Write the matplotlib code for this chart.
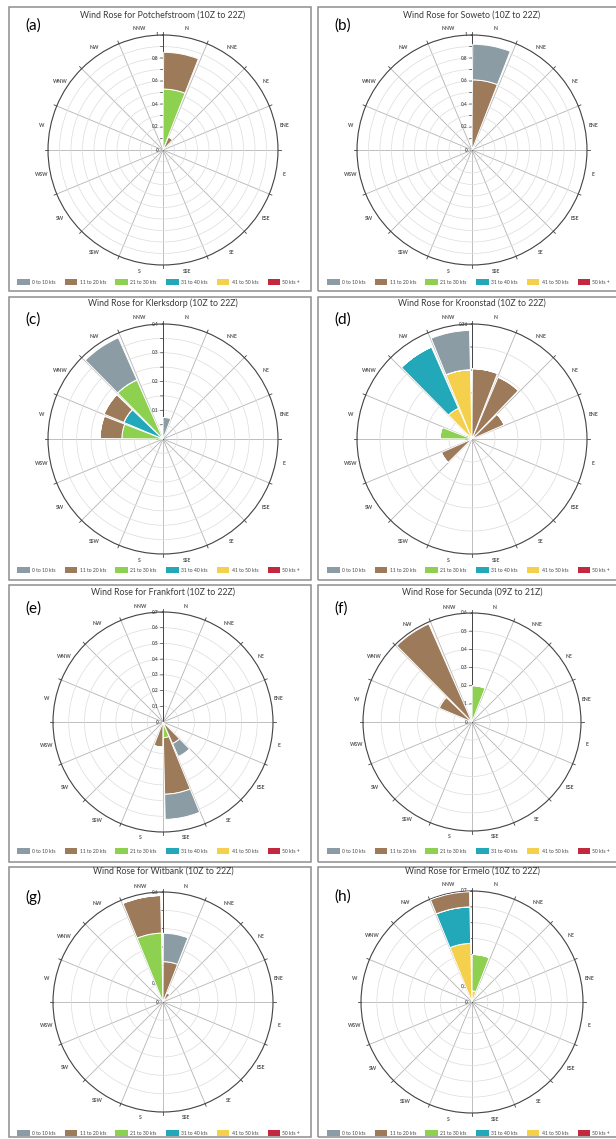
import numpy as np
import matplotlib.pyplot as plt
from matplotlib.patches import Patch, Rectangle

plt.rcParams['font.family'] = ['Lato', 'DejaVu Sans']

W, H = 616, 1139  # output size in pixels

# 16 compass sectors, clockwise from north
directions = ["N", "NNE", "NE", "ENE", "E", "ESE", "SE", "SSE",
              "S", "SSW", "SW", "WSW", "W", "WNW", "NW", "NNW"]
speed_bins = ["0 to 10 kts", "11 to 20 kts", "21 to 30 kts",
              "31 to 40 kts", "41 to 50 kts", "50 kts +"]
bin_colors = ["#8c9ca4", "#9c7a5a", "#8ed150", "#22a8b8", "#f5d04c", "#c2283e"]

tags = ["(a)", "(b)", "(c)", "(d)", "(e)", "(f)", "(g)", "(h)"]
titles = ["Wind Rose for Potchefstroom (10Z to 22Z)",
          "Wind Rose for Soweto (10Z to 22Z)",
          "Wind Rose for Klerksdorp (10Z to 22Z)",
          "Wind Rose for Kroonstad (10Z to 22Z)",
          "Wind Rose for Frankfort (10Z to 22Z)",
          "Wind Rose for Secunda (09Z to 21Z)",
          "Wind Rose for Witbank (10Z to 22Z)",
          "Wind Rose for Ermelo (10Z to 22Z)"]

# radial axis: max, tick step, label every n-th tick
r_max = [1.0, 1.0, 0.4, 0.36, 0.7, 0.6, 0.6, 0.7]
r_step = [0.1, 0.1, 0.05, 0.072, 0.1, 0.1, 0.1, 0.1]
r_label_every = [2, 2, 2, 1, 1, 1, 1, 1]

# frequencies per speed bin and sector (segment sizes, stacked)
potchefstroom = {"11 to 20 kts": {"N": 0.32, "NNE": 0.12},
                 "21 to 30 kts": {"N": 0.53}}
soweto = {"0 to 10 kts": {"N": 0.31},
          "11 to 20 kts": {"N": 0.61},
          "21 to 30 kts": {"NNE": 0.03}}
klerksdorp = {"0 to 10 kts": {"N": 0.075, "NW": 0.16},
              "11 to 20 kts": {"W": 0.076, "WNW": 0.075},
              "21 to 30 kts": {"W": 0.143, "NW": 0.225},
              "31 to 40 kts": {"WNW": 0.148}}
kroonstad = {"0 to 10 kts": {"NNW": 0.123},
             "11 to 20 kts": {"N": 0.22, "NNE": 0.21, "NE": 0.11, "SW": 0.105},
             "21 to 30 kts": {"W": 0.10},
             "31 to 40 kts": {"NW": 0.21},
             "41 to 50 kts": {"NW": 0.105, "NNW": 0.217}}
frankfort = {"0 to 10 kts": {"SE": 0.09, "SSE": 0.16},
             "11 to 20 kts": {"SE": 0.15, "SSE": 0.36, "S": 0.16},
             "21 to 30 kts": {"SSE": 0.10}}
secunda = {"11 to 20 kts": {"WNW": 0.195, "NW": 0.59},
           "21 to 30 kts": {"N": 0.20}}
witbank = {"0 to 10 kts": {"N": 0.155},
           "11 to 20 kts": {"N": 0.22, "NNE": 0.055, "NNW": 0.205},
           "21 to 30 kts": {"NNW": 0.376}}
ermelo = {"11 to 20 kts": {"NNW": 0.095},
          "21 to 30 kts": {"N": 0.23},
          "31 to 40 kts": {"NNW": 0.23},
          "41 to 50 kts": {"N": 0.07, "NNW": 0.37}}
stations = [potchefstroom, soweto, klerksdorp, kroonstad,
            frankfort, secunda, witbank, ermelo]

# layout in pixels (from top-left)
col_cx = [163, 472]
row_cy = [150, 439, 722, 1002]
radius_px = [115, 115, 115, 115, 110, 109, 110, 111]
row_title_y = [15, 303, 592, 871]
row_tag_y = [26, 320, 609, 897]
col_tag_x = [25, 334]
row_leg_y = [282, 570, 851, 1133]
col_leg_x = [17, 327]
row_box = [(7, 291), (297, 580), (585, 862), (867, 1137)]
col_box = [(9, 311), (318, 622)]

fig = plt.figure(figsize=(W / 100, H / 100), dpi=100)
fig.patch.set_facecolor("white")

sector = 2 * np.pi / 16
for i in range(8):
    row, col = divmod(i, 2)
    cx, cy, R = col_cx[col], row_cy[row], radius_px[i]
    rm = r_max[i]

    # panel frame
    x0, x1 = col_box[col]
    y0, y1 = row_box[row]
    fig.add_artist(Rectangle((x0 / W, 1 - y1 / H), (x1 - x0) / W, (y1 - y0) / H,
                             transform=fig.transFigure, fill=False,
                             ec="#8e8e8e", lw=1.1))

    ax = fig.add_axes([(cx - R) / W, (H - cy - R) / H, 2 * R / W, 2 * R / H],
                      projection="polar")
    ax.set_theta_zero_location("N")
    ax.set_theta_direction(-1)
    ax.set_ylim(0, rm)
    ax.set_xticks(np.arange(16) * sector)
    ax.set_xticklabels([])
    ticks = np.arange(0, rm + 1e-9, r_step[i])
    ax.set_yticks(ticks[1:])
    ax.set_yticklabels([])
    ax.xaxis.grid(True, color="#b4b4b4", lw=0.6)
    ax.yaxis.grid(True, color="#dcdcdc", lw=0.5)
    ax.tick_params(length=0)
    ax.spines["polar"].set_color("#444444")
    ax.spines["polar"].set_linewidth(0.8)
    ax.set_axisbelow(True)

    # radial axis line with tick labels (drawn below the bars)
    ax.plot([0, 0], [0, rm], color="#444444", lw=0.7, zorder=1.5)
    for k, t in enumerate(ticks):
        if k > 0:
            dth = 2.5 / (t / rm * R)
            ax.plot([-dth, 0], [t, t], color="#444444", lw=0.5, zorder=1.5)
        if k % r_label_every[i] == 0:
            ax.annotate(f"{round(t, 3):g}", xy=(0, t), xytext=(-3, 0),
                        textcoords="offset points", ha="right", va="center",
                        fontsize=3.4, fontweight="bold", color="#555555",
                        zorder=1.6, annotation_clip=False)

    # outer ticks and compass labels
    for k, name in enumerate(directions):
        ax.plot([k * sector, k * sector], [rm, rm * 1.025], color="#444444",
                lw=0.6, clip_on=False)
        ax.text((k + 0.5) * sector, rm * 1.075, name, ha="center", va="center",
                fontsize=3.7, fontweight="bold", color="#555555", clip_on=False)

    # stacked bars: last speed bin innermost
    bottom = np.zeros(16)
    data = stations[i]
    for b in range(5, -1, -1):
        vals = np.array([data.get(speed_bins[b], {}).get(d, 0.0) for d in directions])
        if vals.sum() == 0:
            continue
        theta = np.arange(16) * sector + np.deg2rad(0.4)
        ax.bar(theta, vals, width=np.deg2rad(20.8), bottom=bottom, align="edge",
               color=bin_colors[b], edgecolor="white", lw=0.7, zorder=3)
        bottom += vals

    fig.text(cx / W, 1 - row_title_y[row] / H, titles[i], ha="center",
             va="center", fontsize=6.3, color="#3a3a3a")
    fig.text(col_tag_x[col] / W, 1 - row_tag_y[row] / H, tags[i], ha="left",
             va="center", fontsize=11, color="black")

    handles = [Patch(facecolor=c, edgecolor="none") for c in bin_colors]
    fig.legend(handles, speed_bins, loc="center left",
               bbox_to_anchor=(col_leg_x[col] / W, 1 - row_leg_y[row] / H),
               ncol=6, frameon=False, fontsize=3.6, handlelength=2.5,
               handleheight=1.5, handletextpad=0.45, columnspacing=1.9,
               borderpad=0, borderaxespad=0, labelcolor="#444444")

fig.savefig("out.png", dpi=100)
